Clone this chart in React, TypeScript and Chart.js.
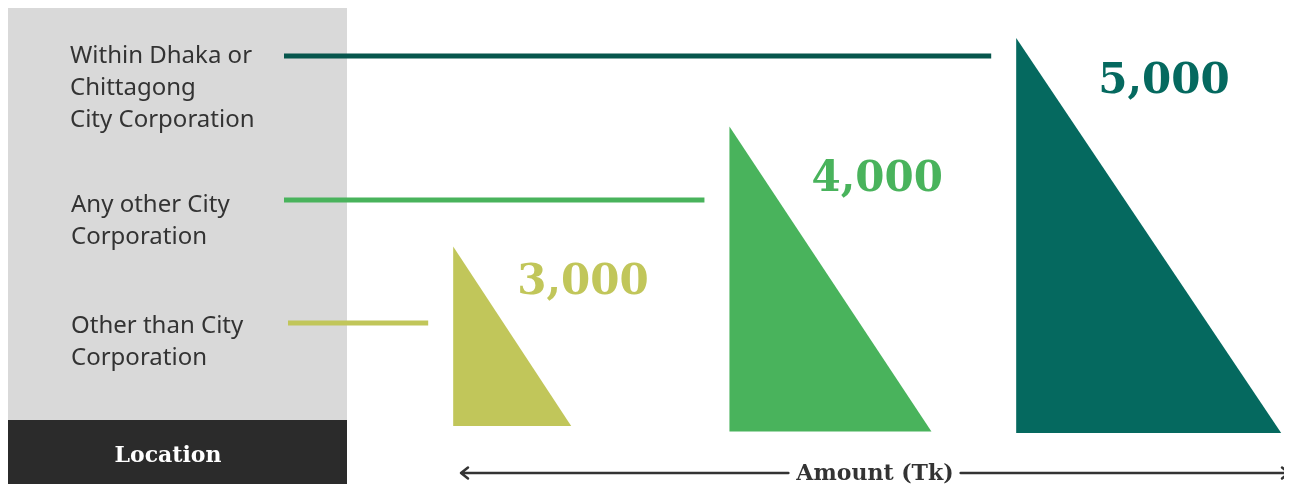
import React, { useEffect, useRef } from 'react';
import { Chart, registerables } from 'chart.js';

Chart.register(...registerables);

// ---------- data ----------
const locations: string[][] = [
  ['Within Dhaka or', 'Chittagong', 'City Corporation'],
  ['Any other City', 'Corporation'],
  ['Other than City', 'Corporation'],
];
const amounts = [5000, 4000, 3000];
const amountLabels = ['5,000', '4,000', '3,000'];
// triangle extent on the (unitless, 0-100) vertical scale
const triangleTop = [100, 77.6, 47.2];
const triangleBase = [0, 0.4, 1.8];
const axisTitle = 'Amount (Tk)';
const panelTitle = 'Location';

// ---------- styles / layout ----------
const fillColors = ['#05695f', '#49b35c', '#c1c65a'];
const lineColors = ['#07564d', '#49b35c', '#c1c65a'];
const barWidths = [265, 202, 118];
const rowLineY = [48, 192, 315];
const rowTextY = [55, 204, 325];
const rowTextX = [62, 63, 63];
const rowLineStart = [276, 276, 280];
const valueLabelOffset = [
  [82, 55],
  [82, 65],
  [64, 47],
];
const W = 1284;
const H = 476;
const PANEL_W = 339;
const PANEL_FOOT = 412;
const SERIF = '"DejaVu Serif", serif';

const infographicPlugin = {
  id: 'infographic',
  beforeDraw(chart: any) {
    const { ctx } = chart;
    ctx.save();
    ctx.fillStyle = '#ffffff';
    ctx.fillRect(0, 0, W, H);
    ctx.fillStyle = '#d9d9d9';
    ctx.fillRect(0, 0, PANEL_W, PANEL_FOOT);
    ctx.fillStyle = '#2b2b2b';
    ctx.fillRect(0, PANEL_FOOT, PANEL_W, H - PANEL_FOOT);

    ctx.fillStyle = '#ffffff';
    ctx.font = `bold 22px ${SERIF}`;
    ctx.textAlign = 'center';
    ctx.textBaseline = 'alphabetic';
    ctx.fillText(panelTitle, 160, 454);

    ctx.fillStyle = '#333333';
    ctx.font = '24px "Noto Sans"';
    ctx.textAlign = 'left';
    locations.forEach((lines, i) => {
      lines.forEach((t, j) => {
        ctx.fillText(t, rowTextX[i], rowTextY[i] + j * 32);
      });
    });
    ctx.restore();
  },
  afterDatasetsDraw(chart: any) {
    const { ctx } = chart;
    ctx.save();
    chart.data.datasets.forEach((ds: any, i: number) => {
      const meta = chart.getDatasetMeta(i);
      const el = meta.data[0];
      if (!el) return;
      const { x, y, base, width } = el.getProps(['x', 'y', 'base', 'width'], true);
      const left = x - width / 2;
      const right = x + width / 2;
      ctx.fillStyle = fillColors[i];
      ctx.beginPath();
      ctx.moveTo(left, y);
      ctx.lineTo(right, base);
      ctx.lineTo(left, base);
      ctx.closePath();
      ctx.fill();

      ctx.strokeStyle = lineColors[i];
      ctx.lineWidth = 5;
      ctx.beginPath();
      ctx.moveTo(rowLineStart[i], rowLineY[i]);
      ctx.lineTo(left - 25, rowLineY[i]);
      ctx.stroke();

      ctx.fillStyle = fillColors[i];
      ctx.font = `bold 42px ${SERIF}`;
      ctx.textAlign = 'left';
      ctx.textBaseline = 'alphabetic';
      ctx.fillText(amountLabels[i], left + valueLabelOffset[i][0], y + valueLabelOffset[i][1]);
    });

    // amount axis with arrows
    const { left, right } = chart.chartArea;
    const yA = 465;
    ctx.font = `bold 22px ${SERIF}`;
    const tw = ctx.measureText(axisTitle).width;
    const cx = (left + right) / 2;
    ctx.strokeStyle = '#333333';
    ctx.lineWidth = 2.5;
    ctx.lineCap = 'round';
    ctx.lineJoin = 'round';
    ctx.beginPath();
    ctx.moveTo(left + 1, yA);
    ctx.lineTo(cx - tw / 2 - 8, yA);
    ctx.moveTo(cx + tw / 2 + 7, yA);
    ctx.lineTo(right - 1, yA);
    ctx.moveTo(left + 8, yA - 5.5);
    ctx.lineTo(left + 1, yA);
    ctx.lineTo(left + 8, yA + 5.5);
    ctx.moveTo(right - 8, yA - 5.5);
    ctx.lineTo(right - 1, yA);
    ctx.lineTo(right - 8, yA + 5.5);
    ctx.stroke();
    ctx.fillStyle = '#333333';
    ctx.textAlign = 'center';
    ctx.fillText(axisTitle, cx, 472);
    ctx.restore();
  },
};

export default function App() {
  const ref = useRef<HTMLCanvasElement>(null);
  useEffect(() => {
    const canvas = ref.current;
    if (!canvas) return;
    const chart = new Chart(canvas, {
      type: 'bar',
      data: {
        datasets: amounts.map((a, i) => ({
          label: amountLabels[i],
          data: [{ x: a, y: [triangleBase[i], triangleTop[i]] }] as any,
          backgroundColor: 'rgba(0,0,0,0)',
          borderWidth: 0,
          barThickness: barWidths[i],
          grouped: false,
        })),
      },
      options: {
        animation: false,
        responsive: false,
        devicePixelRatio: 1,
        events: [],
        layout: { padding: { left: 452, right: 2, top: 30, bottom: 51 } },
        plugins: { legend: { display: false }, tooltip: { enabled: false } },
        scales: {
          x: { type: 'linear', min: 2836, max: 5444, offset: false, display: false },
          y: { type: 'linear', min: 0, max: 100, display: false },
        },
      },
      plugins: [infographicPlugin],
    });
    return () => chart.destroy();
  }, []);
  return (
    <div style={{ width: W, height: H }}>
      <canvas ref={ref} width={W} height={H} style={{ display: 'block', width: W, height: H }} />
    </div>
  );
}
